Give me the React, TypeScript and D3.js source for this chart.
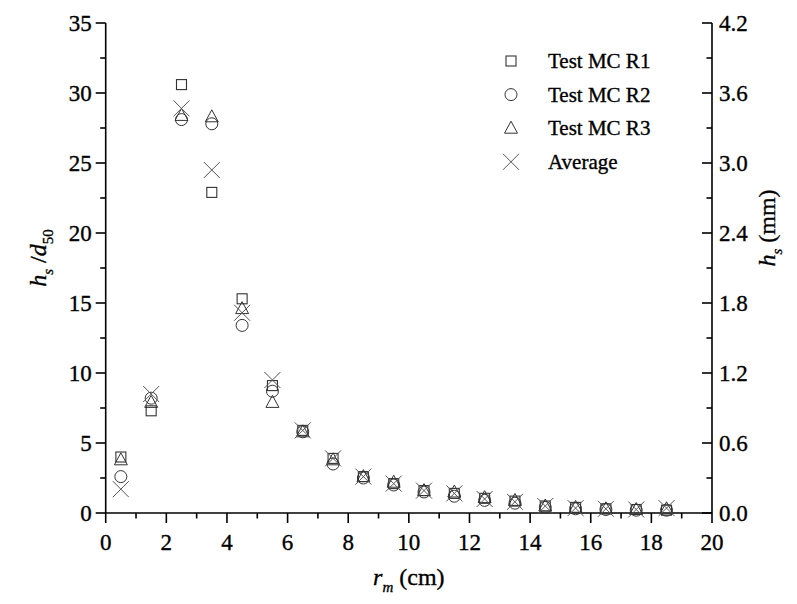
import React from "react";
import * as d3 from "d3";

const rm = [0.5, 1.5, 2.5, 3.5, 4.5, 5.5, 6.5, 7.5, 8.5, 9.5, 10.5, 11.5, 12.5, 13.5, 14.5, 15.5, 16.5, 17.5, 18.5];
const r1 = [4.0, 7.3, 30.6, 22.9, 15.3, 9.1, 5.9, 3.9, 2.6, 2.1, 1.6, 1.4, 1.05, 0.85, 0.5, 0.4, 0.3, 0.25, 0.2];
const r2 = [2.6, 8.2, 28.1, 27.8, 13.4, 8.7, 5.8, 3.5, 2.5, 2.0, 1.5, 1.2, 0.9, 0.7, 0.4, 0.3, 0.25, 0.2, 0.2];
const r3 = [3.8, 7.9, 28.4, 28.3, 14.6, 7.9, 5.8, 3.8, 2.6, 2.2, 1.6, 1.5, 1.1, 0.9, 0.5, 0.4, 0.3, 0.25, 0.3];
const avg = [1.7, 8.5, 28.9, 24.5, 14.3, 9.5, 5.9, 3.9, 2.6, 2.1, 1.6, 1.4, 1.0, 0.8, 0.5, 0.35, 0.3, 0.25, 0.35];

const xTicks = [0, 2, 4, 6, 8, 10, 12, 14, 16, 18, 20];
const yTicks = [0, 5, 10, 15, 20, 25, 30, 35];
const y2Ticks = [0, 0.6, 1.2, 1.8, 2.4, 3.0, 3.6, 4.2];
const legendLabels = ["Test MC R1", "Test MC R2", "Test MC R3", "Average"];

const L = 105.7, R = 712, T = 23, B = 513;
const FONT = "Liberation Serif";
const txt = { fontFamily: FONT, stroke: "#000", strokeWidth: 0.35 } as React.CSSProperties;

function Marker({ kind, cx, cy }: { kind: string; cx: number; cy: number }) {
  const st = "#333";
  if (kind === "square")
    return <rect x={cx - 5} y={cy - 5} width={10} height={10} fill="none" stroke={st} strokeWidth={1.1} />;
  if (kind === "circle")
    return <circle cx={cx} cy={cy} r={6} fill="none" stroke={st} strokeWidth={1} />;
  if (kind === "triangle")
    return (
      <path d={`M${cx},${cy - 7}L${cx + 6.5},${cy + 5}L${cx - 6.5},${cy + 5}Z`} fill="none" stroke={st} strokeWidth={1} />
    );
  return (
    <path d={`M${cx - 8},${cy - 8}L${cx + 8},${cy + 8}M${cx - 8},${cy + 8}L${cx + 8},${cy - 8}`} stroke="#555" strokeWidth={1} fill="none" />
  );
}

export default function App() {
  const x = d3.scaleLinear().domain([0, 20]).range([L, R]);
  const y = d3.scaleLinear().domain([0, 35]).range([B, T]);
  const y2 = d3.scaleLinear().domain([0, 4.2]).range([B, T]);
  const xMinor = d3.range(1, 20, 2);
  const yMinor = d3.range(2.5, 35, 5);
  const y2Minor = d3.range(0.3, 4.2, 0.6);
  const series = [
    { kind: "square", vals: r1 },
    { kind: "circle", vals: r2 },
    { kind: "triangle", vals: r3 },
    { kind: "cross", vals: avg },
  ];
  const ax = { stroke: "#000", strokeWidth: 1.6 };
  return (
    <svg width={797} height={604} style={{ position: "absolute", left: 0, top: 0, background: "#fff", fontFamily: FONT }}>
      <rect width={797} height={604} fill="#fff" />
      <line x1={L} y1={B} x2={R} y2={B} {...ax} />
      <line x1={L} y1={T} x2={L} y2={B} {...ax} />
      <line x1={R} y1={T} x2={R} y2={B} {...ax} />
      {xTicks.map((t) => (
        <g key={"xt" + t}>
          <line x1={x(t)} x2={x(t)} y1={B} y2={B + 10} {...ax} />
          <text x={x(t)} y={B + 37} fontSize={23} textAnchor="middle" style={txt}>{t}</text>
        </g>
      ))}
      {xMinor.map((t) => (
        <line key={"xm" + t} x1={x(t)} x2={x(t)} y1={B} y2={B + 5.5} {...ax} />
      ))}
      {yTicks.map((t) => (
        <g key={"yt" + t}>
          <line x1={L - 10} x2={L} y1={y(t)} y2={y(t)} {...ax} />
          <text x={L - 14} y={y(t) + 8} fontSize={23} textAnchor="end" style={txt}>{t}</text>
        </g>
      ))}
      {yMinor.map((t) => (
        <line key={"ym" + t} x1={L - 5.5} x2={L} y1={y(t)} y2={y(t)} {...ax} />
      ))}
      {y2Ticks.map((t) => (
        <g key={"y2t" + t}>
          <line x1={R - 10} x2={R} y1={y2(t)} y2={y2(t)} {...ax} />
          <text x={R + 7} y={y2(t) + 8} fontSize={23} textAnchor="start" style={txt}>{t.toFixed(1)}</text>
        </g>
      ))}
      {y2Minor.map((t) => (
        <line key={"y2m" + t} x1={R - 5.5} x2={R} y1={y2(t)} y2={y2(t)} {...ax} />
      ))}
      <text x={x(10)} y={585} fontSize={24} textAnchor="middle" style={txt}>
        <tspan fontStyle="italic">r</tspan>
        <tspan fontStyle="italic" fontSize={15} dy={7}>m</tspan>
        <tspan dy={-7}> (cm)</tspan>
      </text>
      <text transform={`translate(46,258) rotate(-90)`} fontSize={24} textAnchor="middle" style={txt}>
        <tspan fontStyle="italic">h</tspan>
        <tspan fontStyle="italic" fontSize={15} dy={7}>s</tspan>
        <tspan dy={-7}> /</tspan>
        <tspan fontStyle="italic">d</tspan>
        <tspan fontSize={15} dy={7}>50</tspan>
      </text>
      <text transform={`translate(775,228) rotate(-90)`} fontSize={24} textAnchor="middle" style={txt}>
        <tspan fontStyle="italic">h</tspan>
        <tspan fontStyle="italic" fontSize={15} dy={7}>s</tspan>
        <tspan dy={-7}> (mm)</tspan>
      </text>
      {series.map((s) => (
        <g key={s.kind}>
          {s.vals.map((v, i) => (
            <Marker key={i} kind={s.kind} cx={x(rm[i])} cy={y(v)} />
          ))}
        </g>
      ))}
      {series.map((s, i) => (
        <g key={"lg" + i}>
          <Marker kind={s.kind} cx={511} cy={61 + i * 33.6} />
          <text x={548} y={61 + i * 33.6 + 7} fontSize={21} style={txt}>{legendLabels[i]}</text>
        </g>
      ))}
    </svg>
  );
}
